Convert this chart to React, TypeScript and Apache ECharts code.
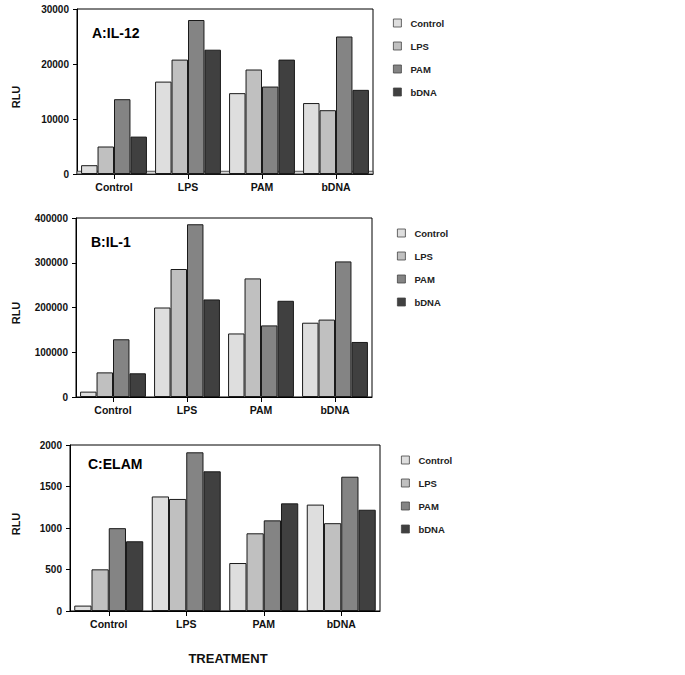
import React, { useEffect, useRef } from "react";
import * as echarts from "echarts";

const categories = ["Control", "LPS", "PAM", "bDNA"];
const seriesNames = ["Control", "LPS", "PAM", "bDNA"];
const seriesColors = ["#dedede", "#c0c0c0", "#848484", "#404040"];

// A: IL-12
const il12Control = [1600, 16800, 14700, 12900];
const il12LPS = [5000, 20800, 19000, 11600];
const il12PAM = [13600, 28000, 15900, 25000];
const il12bDNA = [6800, 22600, 20800, 15300];

// B: IL-1
const il1Control = [12000, 200000, 142000, 166000];
const il1LPS = [55000, 286000, 265000, 173000];
const il1PAM = [129000, 386000, 160000, 303000];
const il1bDNA = [53000, 218000, 215000, 123000];

// C: ELAM
const elamControl = [65, 1380, 578, 1282];
const elamLPS = [502, 1350, 936, 1058];
const elamPAM = [998, 1912, 1092, 1618];
const elambDNA = [840, 1683, 1297, 1220];

const panelTitles = ["A:IL-12", "B:IL-1", "C:ELAM"];
const yMax = [30000, 400000, 2000];
const yInterval = [10000, 100000, 500];

const FONT = "'Liberation Sans', Arial, Helvetica, sans-serif";

export default function App() {
  const ref = useRef<HTMLDivElement>(null);

  useEffect(() => {
    if (!ref.current) return;
    const chart = echarts.init(ref.current, null, { renderer: "svg" });

    const panels = [
      [il12Control, il12LPS, il12PAM, il12bDNA],
      [il1Control, il1LPS, il1PAM, il1bDNA],
      [elamControl, elamLPS, elamPAM, elambDNA],
    ];

    const grids = [
      { left: 77, top: 9, width: 296, height: 165 },
      { left: 76, top: 218, width: 296, height: 179 },
      { left: 70, top: 445, width: 310, height: 166 },
    ];

    const legendPos = [
      { left: 388, top: 13 },
      { left: 392, top: 223 },
      { left: 396, top: 450 },
    ];

    const series: any[] = [];
    panels.forEach((vals, p) => {
      vals.forEach((d, i) => {
        series.push({
          type: "bar",
          name: seriesNames[i],
          xAxisIndex: p,
          yAxisIndex: p,
          data: d,
          barGap: "0%",
          barCategoryGap: "11%",
          z: 3,
          itemStyle: {
            color: seriesColors[i],
            borderColor: "#1a1a1a",
            borderWidth: 1,
          },
        });
      });
    });

    // thin baseline band in panel A
    series.push({
      type: "line",
      xAxisIndex: 0,
      yAxisIndex: 0,
      data: [],
      z: 1,
      silent: true,
      markArea: {
        silent: true,
        itemStyle: { color: "#d8d8d8", borderColor: "#333", borderWidth: 0.8 },
        data: [[{ yAxis: 0 }, { yAxis: 500 }]],
      },
    });

    const option: any = {
      animation: false,
      backgroundColor: "#ffffff",
      textStyle: { fontFamily: FONT },
      grid: grids.map((g) => ({
        ...g,
        show: true,
        borderColor: "#000",
        borderWidth: 1,
        backgroundColor: "transparent",
        containLabel: false,
      })),
      xAxis: grids.map((_, p) => ({
        type: "category",
        gridIndex: p,
        data: categories,
        axisLine: { show: true, lineStyle: { color: "#000", width: 1 } },
        axisTick: { show: true, alignWithLabel: true, length: 5, lineStyle: { color: "#000" } },
        axisLabel: {
          color: "#111",
          fontWeight: "bold",
          fontSize: 10.5,
          fontFamily: FONT,
          margin: 7,
        },
        splitLine: { show: false },
      })),
      yAxis: grids.map((_, p) => ({
        type: "value",
        gridIndex: p,
        min: 0,
        max: yMax[p],
        interval: yInterval[p],
        axisLine: { show: true, lineStyle: { color: "#000", width: 1 } },
        axisTick: { show: true, length: 4, lineStyle: { color: "#000" } },
        axisLabel: {
          color: "#111",
          fontWeight: "bold",
          fontSize: 10,
          fontFamily: FONT,
          margin: 8,
          formatter: (v: number) => String(v),
        },
        splitLine: { show: false },
      })),
      legend: legendPos.map((pos) => ({
        ...pos,
        orient: "vertical",
        selectedMode: false,
        data: seriesNames,
        icon: "rect",
        itemWidth: 8,
        itemHeight: 8,
        itemGap: 13,
        itemStyle: { borderColor: "#444", borderWidth: 0.8 },
        textStyle: {
          color: "#222",
          fontWeight: "bold",
          fontSize: 9.5,
          fontFamily: FONT,
          padding: [0, 0, 0, 4],
        },
      })),
      graphic: [
        { type: "text", x: 92, y: 33, style: { text: panelTitles[0], font: `bold 14px ${FONT}`, fill: "#000", align: "left", verticalAlign: "middle" } },
        { type: "text", x: 91, y: 242, style: { text: panelTitles[1], font: `bold 14px ${FONT}`, fill: "#000", align: "left", verticalAlign: "middle" } },
        { type: "text", x: 88, y: 464, style: { text: panelTitles[2], font: `bold 14px ${FONT}`, fill: "#000", align: "left", verticalAlign: "middle" } },
        { type: "text", x: 16, y: 97, rotation: Math.PI / 2, style: { text: "RLU", font: `bold 11px ${FONT}`, fill: "#111", align: "center", verticalAlign: "middle" } },
        { type: "text", x: 16, y: 313, rotation: Math.PI / 2, style: { text: "RLU", font: `bold 11px ${FONT}`, fill: "#111", align: "center", verticalAlign: "middle" } },
        { type: "text", x: 16, y: 524, rotation: Math.PI / 2, style: { text: "RLU", font: `bold 11px ${FONT}`, fill: "#111", align: "center", verticalAlign: "middle" } },
        { type: "text", x: 228, y: 658, style: { text: "TREATMENT", font: `bold 13px ${FONT}`, fill: "#111", align: "center", verticalAlign: "middle" } },
      ],
      series,
    };

    chart.setOption(option);
    return () => chart.dispose();
  }, []);

  return (
    <div
      ref={ref}
      style={{ position: "fixed", left: 0, top: 0, width: 685, height: 675, background: "#fff" }}
    />
  );
}
